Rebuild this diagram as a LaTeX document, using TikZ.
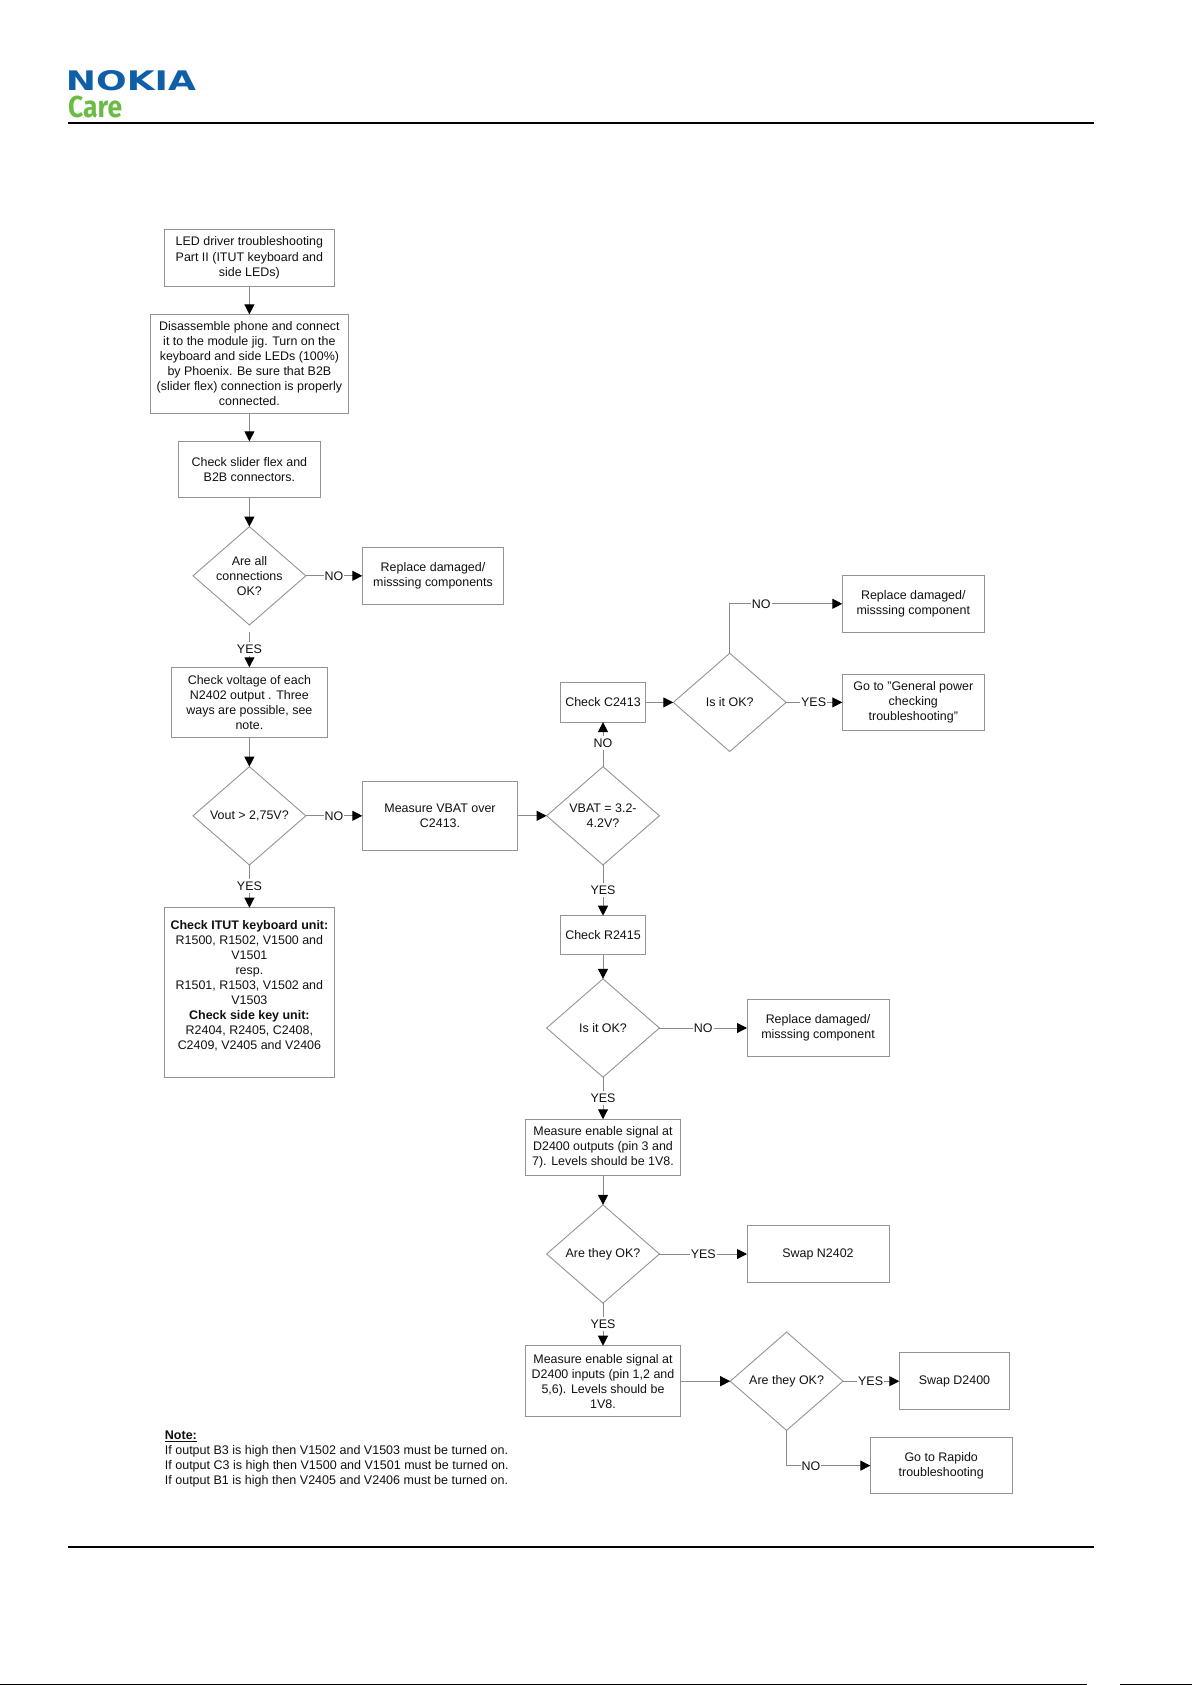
\documentclass[tikz,border=0pt]{standalone}
\usepackage{fontspec}
\usepackage{graphicx}
\setmainfont{Liberation Sans}
\newfontfamily\logofont{DejaVu Sans}
\newfontfamily\carefont{Fira Sans}
\usetikzlibrary{shapes.geometric,arrows.meta}
\definecolor{nokiablue}{HTML}{0F5FA8}
\definecolor{caregreen}{HTML}{6CBB45}
\definecolor{edgegray}{HTML}{939393}
\definecolor{linegray}{HTML}{8A8A8A}
\definecolor{inkblack}{HTML}{101010}
\tikzset{
  x=1pt,y=-1pt,
  every node/.style={font=\fontsize{12.45}{15.05}\selectfont,text=inkblack},
  stepbox/.style={draw=edgegray,line width=1pt,rectangle,inner sep=0pt,outer sep=0pt,align=center},
  decbox/.style={draw=edgegray,line width=0.9pt,shape=diamond,inner sep=0pt,outer sep=0pt,
    minimum width=112.8pt,minimum height=98.3pt},
  dectext/.style={align=center,inner sep=0pt,text=inkblack},
  conn/.style={draw=linegray,line width=1pt,-{Triangle[length=10pt,width=10pt,color=black,fill=black]}},
  lab/.style={fill=white,inner xsep=1pt,inner ysep=2.5pt,text height=9pt,text depth=0pt},
  rulebar/.style={draw=black,line width=1.8pt},
  edgebar/.style={fill=black},
}
\begin{document}
\begin{tikzpicture}
\useasboundingbox (0,0) rectangle (1192,1685);
% header and footer
\node[anchor=center,inner sep=0pt,text=nokiablue] (logo) at (131,80.5) {\resizebox{130pt}{20pt}{\logofont\bfseries NOKIA}};
\node[anchor=south west,inner sep=0pt,text=caregreen] (care) at (68,118.2) {\resizebox{54pt}{21.5pt}{\carefont\bfseries Care}};
\coordinate (hl) at (68,122.7); \coordinate (hr) at (1094,122.7);
\coordinate (fl) at (68,1547.3); \coordinate (fr) at (1094,1547.3);
\draw[rulebar] (hl) -- (hr);
\draw[rulebar] (fl) -- (fr);
\fill[edgebar] (0,1684) rectangle (1087,1685);
\fill[edgebar] (1120,1684) rectangle (1192,1685);

% left column
\node[stepbox,minimum width=170pt,minimum height=57pt] (b1) at (249.4,257.8) {LED driver troubleshooting\\Part II (ITUT keyboard and\\side LEDs)};
\node[stepbox,minimum width=198pt,minimum height=98.7pt] (b2) at (249.4,363.7) {Disassemble phone and connect\\it to the module jig. Turn on the\\keyboard and side LEDs (100\%)\\by Phoenix. Be sure that B2B\\(slider flex) connection is properly\\connected.};
\node[stepbox,minimum width=141.4pt,minimum height=56.4pt] (b3) at (249.4,469.5) {Check slider flex and\\B2B connectors.};
\node[decbox,label={[dectext]center:{Are all\\connections\\OK?}}] (d1) at (249.4,575.8) {};
\node[stepbox,minimum width=141.4pt,minimum height=57pt] (b4) at (433,575.8) {Replace damaged/\\misssing components};
\node[stepbox,minimum width=155.6pt,minimum height=70pt] (b5) at (249.4,702.3) {Check voltage of each\\N2402 output . Three\\ways are possible, see\\note.};
\node[decbox,label={[dectext]center:{Vout > 2,75V?}}] (d2) at (249.4,815.8) {};
\node[stepbox,minimum width=155.4pt,minimum height=69pt] (b6) at (440,815.8) {Measure VBAT over\\C2413.};
\node[stepbox,minimum width=169.7pt,minimum height=169.6pt] (b7) at (249.4,992.5) {\textbf{Check ITUT keyboard unit:}\\R1500, R1502, V1500 and\\V1501\\resp.\\R1501, R1503, V1502 and\\V1503\\\textbf{Check side key unit:}\\R2404, R2405, C2408,\\C2409, V2405 and V2406\\~};

% middle column
\node[decbox,label={[dectext]center:{VBAT = 3.2-\\4.2V?}}] (d3) at (603,815.8) {};
\node[stepbox,minimum width=85.4pt,minimum height=39.4pt] (c1) at (603,702.4) {Check C2413};
\node[decbox,label={[dectext]center:{Is it OK?}}] (d4) at (729.7,702.4) {};
\node[stepbox,minimum width=142pt,minimum height=56.7pt] (rp1) at (913.3,603.8) {Replace damaged/\\misssing component};
\node[stepbox,minimum width=142pt,minimum height=56.4pt] (gen) at (913.3,702.4) {Go to "General power\\checking\\troubleshooting"};
\node[stepbox,minimum width=85.4pt,minimum height=39pt] (r1) at (603,935.2) {Check R2415};
\node[decbox,label={[dectext]center:{Is it OK?}}] (d5) at (603,1028) {};
\node[stepbox,minimum width=142pt,minimum height=57.4pt] (rp2) at (818,1028) {Replace damaged/\\misssing component};
\node[stepbox,minimum width=155.7pt,minimum height=56.7pt] (m1) at (603,1147.6) {Measure enable signal at\\D2400 outputs (pin 3 and\\7). Levels should be 1V8.};
\node[decbox,label={[dectext]center:{Are they OK?}}] (d6) at (603,1254) {};
\node[stepbox,minimum width=142pt,minimum height=56.6pt] (sw1) at (818,1254) {Swap N2402};
\node[stepbox,minimum width=155.7pt,minimum height=71pt] (m2) at (603,1381.2) {Measure enable signal at\\D2400 inputs (pin 1,2 and\\5,6). Levels should be\\1V8.};
\node[decbox,label={[dectext]center:{Are they OK?}}] (d7) at (786.6,1381.2) {};
\node[stepbox,minimum width=110.4pt,minimum height=57.4pt] (sw2) at (954.5,1381.2) {Swap D2400};
\node[stepbox,minimum width=141.7pt,minimum height=56.4pt] (rap) at (941.2,1465.6) {Go to Rapido\\troubleshooting};

% note
\node[anchor=west,align=left,inner sep=0pt,font=\fontsize{12.52}{15.05}\selectfont] (note) at (164.7,1458.8) {\underline{\textbf{Note:}}\\If output B3 is high then V1502 and V1503 must be turned on.\\If output C3 is high then V1500 and V1501 must be turned on.\\If output B1 is high then V2405 and V2406 must be turned on.};

% connectors
\draw[conn] (b1) -- (b2);
\draw[conn] (b2) -- (b3);
\draw[conn] (b3) -- (d1);
\draw[conn] (d1) -- node[lab,pos=.5]{NO} (b4);
\draw[conn,shorten <=7pt] (d1) -- node[lab,pos=.57]{YES} (b5);
\draw[conn] (b5) -- (d2);
\draw[conn] (d2) -- node[lab,pos=.5]{NO} (b6);
\draw[conn] (d2) -- node[lab,pos=.49]{YES} (b7);
\draw[conn] (b6) -- (d3);
\draw[conn] (d3) -- node[lab,pos=.52]{NO} (c1);
\draw[conn] (c1) -- (d4);
\draw[conn] (d4.north) |- node[lab,pos=.64]{NO} (rp1.west);
\draw[conn] (d4) -- node[lab,pos=.49]{YES} (gen);
\draw[conn] (d3) -- node[lab,pos=.49]{YES} (r1);
\draw[conn] (r1) -- (d5);
\draw[conn] (d5) -- node[lab,pos=.5]{NO} (rp2);
\draw[conn] (d5) -- node[lab,pos=.49]{YES} (m1);
\draw[conn] (m1) -- (d6);
\draw[conn] (d6) -- node[lab,pos=.5]{YES} (sw1);
\draw[conn] (d6) -- node[lab,pos=.49]{YES} (m2);
\draw[conn] (m2) -- (d7);
\draw[conn] (d7) -- node[lab,pos=.49]{YES} (sw2);
\draw[conn] (d7.south) |- node[lab,pos=.645]{NO} (rap.west);
\end{tikzpicture}
\end{document}
